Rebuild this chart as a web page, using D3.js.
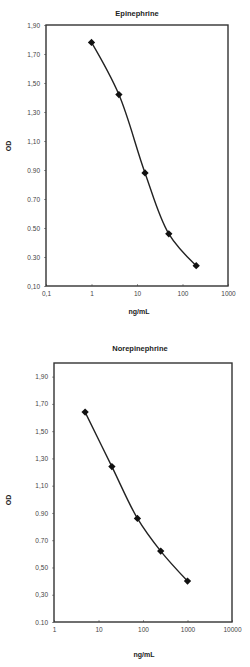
<!DOCTYPE html>
<html>
<head>
<meta charset="utf-8">
<script src="https://cdn.jsdelivr.net/npm/d3@7"></script>
<style>
  body { margin: 0; background: #fff; }
  svg text { font-family: "Liberation Sans", Arial, sans-serif; }
</style>
</head>
<body>
<div id="chart"></div>
<script>
// data
var epiConc = [1, 4, 15, 50, 200];
var epiOD = [1.78, 1.42, 0.88, 0.46, 0.24];
var norConc = [5, 20, 75, 250, 1000];
var norOD = [1.64, 1.24, 0.86, 0.62, 0.40];

var epiYTicks = [0.1, 0.3, 0.5, 0.7, 0.9, 1.1, 1.3, 1.5, 1.7, 1.9];
var epiYLabels = ["0,10", "0.30", "0.50", "0.70", "0.90", "1,10", "1,30", "1,50", "1,70", "1,90"];
var epiXTicks = [0.1, 1, 10, 100, 1000];
var epiXLabels = ["0,1", "1", "10", "100", "1000"];

var norYTicks = [0.1, 0.3, 0.5, 0.7, 0.9, 1.1, 1.3, 1.5, 1.7, 1.9];
var norYLabels = ["0.10", "0,30", "0,50", "0.70", "0.90", "1,10", "1,30", "1,50", "1,70", "1,90"];
var norXTicks = [1, 10, 100, 1000, 10000];
var norXLabels = ["1", "10", "100", "1000", "10000"];

var svg = d3.select("#chart")
  .append("svg")
    .attr("width", 250)
    .attr("height", 667);

function drawPanel(opt) {
  var x = d3.scaleLog().domain(opt.xDomain).range([opt.left, opt.right]);
  var y = d3.scaleLinear().domain(opt.yDomain).range([opt.bottom, opt.top]);
  var g = svg.append("g");

  // title
  g.append("text")
    .attr("x", opt.titleX).attr("y", opt.titleY)
    .attr("text-anchor", "middle")
    .style("font-size", "7.5px").style("font-weight", "bold").style("fill", "#222")
    .text(opt.title);

  // y axis
  var ya = g.append("g")
    .attr("transform", "translate(" + opt.left + ",0)")
    .call(d3.axisLeft(y).tickValues(opt.yTicks).tickSize(2).tickPadding(4)
      .tickFormat(function(d, i) { return opt.yLabels[i]; }));
  ya.select(".domain").remove();
  ya.selectAll("line").attr("stroke", "#999");
  ya.selectAll("text").style("font-size", "6.5px").style("fill", "#444");

  // x axis
  var xa = g.append("g")
    .attr("transform", "translate(0," + opt.bottom + ")")
    .call(d3.axisBottom(x).tickValues(opt.xTicks).tickSize(-2).tickPadding(5)
      .tickFormat(function(d, i) { return opt.xLabels[i]; }));
  xa.select(".domain").remove();
  xa.selectAll("line").attr("stroke", "#999");
  xa.selectAll("text").style("font-size", "6.5px").style("fill", "#444");

  // frame
  g.append("rect")
    .attr("x", opt.left).attr("y", opt.top)
    .attr("width", opt.right - opt.left).attr("height", opt.bottom - opt.top)
    .attr("fill", "none").attr("stroke", "#333").attr("stroke-width", 1.4);

  // axis labels
  g.append("text")
    .attr("transform", "translate(" + opt.odX + "," + opt.odY + ") rotate(-90)")
    .attr("text-anchor", "middle")
    .style("font-size", "7px").style("font-weight", "bold").style("fill", "#222")
    .text("OD");
  g.append("text")
    .attr("x", opt.unitX).attr("y", opt.unitY)
    .attr("text-anchor", "middle")
    .style("font-size", "7px").style("font-weight", "bold").style("fill", "#222")
    .text("ng/mL");

  var pts = opt.conc.map(function(c, i) { return [x(c), y(opt.od[i])]; });

  // smooth curve
  g.append("path")
    .attr("d", d3.line().curve(d3.curveCatmullRom.alpha(0.5))(pts))
    .attr("fill", "none").attr("stroke", "#222").attr("stroke-width", 1.4);

  // diamond markers
  g.selectAll(".pt")
    .data(pts)
    .enter()
    .append("path")
      .attr("class", "pt")
      .attr("transform", function(d) { return "translate(" + d[0] + "," + d[1] + ")"; })
      .attr("d", d3.symbol().type(d3.symbolDiamond2).size(34))
      .attr("fill", "#111");
}

drawPanel({
  title: "Epinephrine", titleX: 137, titleY: 16,
  left: 46, right: 228, top: 25, bottom: 286,
  xDomain: [0.1, 1000], yDomain: [0.1, 1.9],
  xTicks: epiXTicks, xLabels: epiXLabels,
  yTicks: epiYTicks, yLabels: epiYLabels,
  conc: epiConc, od: epiOD,
  odX: 11, odY: 146, unitX: 139, unitY: 314
});

drawPanel({
  title: "Norepinephrine", titleX: 140, titleY: 351,
  left: 54, right: 232, top: 363, bottom: 622,
  xDomain: [1, 10000], yDomain: [0.1, 2.0],
  xTicks: norXTicks, xLabels: norXLabels,
  yTicks: norYTicks, yLabels: norYLabels,
  conc: norConc, od: norOD,
  odX: 11, odY: 500, unitX: 144, unitY: 657
});
</script>
</body>
</html>
